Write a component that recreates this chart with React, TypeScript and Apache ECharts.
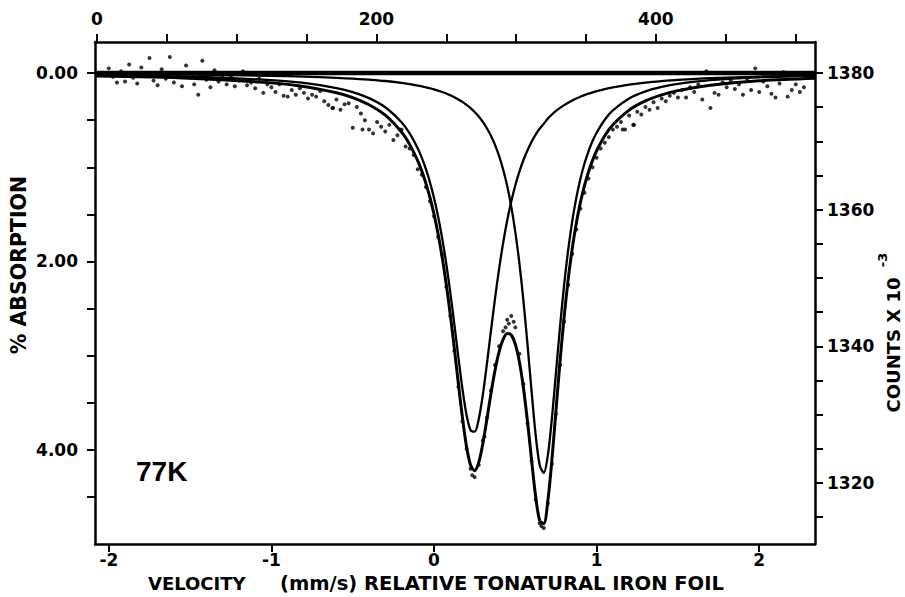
import React, { useEffect, useRef } from "react";
import * as echarts from "echarts";

// ---- axis ticks / labels ----
const velocityTicks = [-2, -1, 0, 1, 2];
const channelTicks = [0, 50, 100, 150, 200, 250, 300, 350, 400, 450, 500];
const channelLabels = [0, 200, 400];
const absorptionTicks = [0, 0.5, 1, 1.5, 2, 2.5, 3, 3.5, 4, 4.5];
const absorptionLabels = [0, 2, 4];
const countTicks = [1315, 1320, 1325, 1330, 1335, 1340, 1345, 1350, 1355, 1360, 1365, 1370, 1375, 1380];
const countLabels = [1320, 1340, 1360, 1380];

// ---- fitted curves (% absorption vs velocity, mm/s) ----
const fitVelocity = [
  -2.085, -1.5, -1.0, -0.8, -0.6, -0.5, -0.4, -0.3, -0.2, -0.15, -0.1, -0.075, -0.05, -0.025, 0,
  0.025, 0.05, 0.075, 0.1, 0.125, 0.15, 0.175, 0.2, 0.225, 0.25, 0.275, 0.3, 0.325, 0.35, 0.375,
  0.4, 0.425, 0.45, 0.475, 0.5, 0.525, 0.55, 0.575, 0.6, 0.625, 0.65, 0.675, 0.7, 0.725, 0.75,
  0.775, 0.8, 0.825, 0.85, 0.875, 0.9, 0.925, 0.95, 0.975, 1.0, 1.05, 1.1, 1.2, 1.3, 1.4, 1.5,
  1.7, 2.0, 2.343,
];
const fitSite1 = [
  0.021, 0.038, 0.075, 0.105, 0.159, 0.202, 0.266, 0.363, 0.522, 0.64, 0.8, 0.9, 1.02, 1.16, 1.326,
  1.522, 1.753, 2.022, 2.329, 2.668, 3.021, 3.357, 3.63, 3.792, 3.807, 3.673, 3.418, 3.091, 2.738, 2.395,
  2.081, 1.804, 1.566, 1.363, 1.191, 1.046, 0.923, 0.819, 0.73, 0.654, 0.589, 0.538, 0.483, 0.44, 0.402,
  0.369, 0.34, 0.314, 0.291, 0.27, 0.251, 0.234, 0.219, 0.205, 0.192, 0.17, 0.152, 0.123, 0.101, 0.085, 0.072,
  0.054, 0.037, 0.026,
];
const fitSite2 = [
  0.011, 0.017, 0.029, 0.037, 0.05, 0.058, 0.07, 0.084, 0.104, 0.117, 0.132, 0.141, 0.151, 0.161, 0.173,
  0.186, 0.201, 0.217, 0.235, 0.256, 0.28, 0.306, 0.337, 0.373, 0.414, 0.462, 0.519, 0.586, 0.666, 0.763,
  0.88, 1.024, 1.2, 1.418, 1.688, 2.02, 2.42, 2.883, 3.38, 3.842, 4.163, 4.245, 4.058, 3.667, 3.181,
  2.692, 2.252, 1.879, 1.573, 1.325, 1.125, 0.963, 0.831, 0.722, 0.633, 0.495, 0.397, 0.27, 0.195, 0.147, 0.114,
  0.075, 0.045, 0.029,
];
const fitTotal = [
  0.032, 0.055, 0.104, 0.142, 0.209, 0.26, 0.336, 0.447, 0.626, 0.757, 0.932, 1.041, 1.171, 1.321, 1.499,
  1.708, 1.954, 2.239, 2.564, 2.924, 3.301, 3.663, 3.967, 4.165, 4.221, 4.135, 3.937, 3.677, 3.404, 3.158,
  2.961, 2.828, 2.766, 2.781, 2.879, 3.066, 3.343, 3.702, 4.11, 4.496, 4.752, 4.783, 4.541, 4.107, 3.583,
  3.061, 2.592, 2.193, 1.864, 1.595, 1.376, 1.197, 1.05, 0.927, 0.825, 0.665, 0.549, 0.393, 0.296, 0.232, 0.186,
  0.129, 0.082, 0.055,
];
const baselineVelocity = [-2.085, 2.343];
const baselineAbsorption = [0, 0];

// ---- measured points ----
const measuredVelocity = [
  -2.025, -2.0, -1.975, -1.95, -1.925, -1.9, -1.875, -1.85, -1.825, -1.8, -1.775, -1.75, -1.725, -1.7,
  -1.675, -1.65, -1.625, -1.6, -1.575, -1.55, -1.525, -1.5, -1.475, -1.45, -1.425, -1.4, -1.375, -1.35,
  -1.325, -1.3, -1.275, -1.25, -1.225, -1.2, -1.175, -1.15, -1.125, -1.1, -1.075, -1.05, -1.025,
  -1.0, -0.975, -0.95, -0.925, -0.9, -0.875, -0.85, -0.825, -0.8, -0.775, -0.75, -0.725, -0.7, -0.675,
  -0.65, -0.625, -0.6, -0.575, -0.55, -0.525, -0.5, -0.475, -0.45, -0.425, -0.4, -0.375, -0.35, -0.325,
  -0.3, -0.275, -0.25, -0.225, -0.2, -0.175, -0.15, -0.125, -0.1,
  -0.075, -0.05, -0.025, 0, 0.025, 0.05, 0.075, 0.1, 0.125, 0.15, 0.175, 0.2, 0.225, 0.25, 0.275, 0.3,
  0.325, 0.35, 0.375, 0.4, 0.425, 0.45, 0.475, 0.5, 0.525, 0.55, 0.575, 0.6, 0.625, 0.65, 0.675, 0.7,
  0.725, 0.75, 0.775, 0.8, 0.825, 0.85, 0.875, 0.9, 0.925, 0.95, 0.975, 1.0, 1.025, 1.05,
  1.075, 1.1, 1.125, 1.15, 1.175, 1.2, 1.225, 1.25, 1.275, 1.3, 1.325, 1.35, 1.375, 1.4, 1.425, 1.45,
  1.475, 1.5, 1.525, 1.55, 1.575, 1.6, 1.625, 1.65, 1.675, 1.7, 1.725, 1.75, 1.775, 1.8, 1.825, 1.85,
  1.875, 1.9, 1.925, 1.95, 1.975, 2.0, 2.025, 2.05, 2.075, 2.1, 2.125, 2.15, 2.175, 2.2, 2.225, 2.25, 2.275,
  0.44, 0.46, 0.49, 0.235, 0.66, 0.31, -0.62, -0.44, 1.16, 1.23,
];
const measuredAbsorption = [
  0.02, -0.05, 0.04, 0.1, -0.02, 0.09, -0.09, 0.05, 0.11, -0.06, 0.03, -0.16, 0.08, 0.13,
  -0.04, 0.06, -0.17, 0.1, 0.02, 0.14, -0.08, 0.05, 0.12, 0.23, -0.13, 0.07, 0.15, -0.03,
  0.09, 0.05, 0.12, 0.04, 0.14, 0.08, -0.02, 0.13, 0.1, 0.16, 0.06, 0.21, 0.12,
  0.15, 0.2, 0.12, 0.24, 0.25, 0.18, 0.23, 0.16, 0.21, 0.27, 0.23, 0.25, 0.19, 0.3,
  0.34, 0.37, 0.28, 0.39, 0.33, 0.32, 0.58, 0.36, 0.43, 0.5, 0.6, 0.64, 0.52, 0.57,
  0.62, 0.55, 0.71, 0.66, 0.6, 0.78, 0.8, 0.87, 1.02,
  1.08, 1.21, 1.36, 1.52, 1.74, 1.93, 2.27, 2.58, 2.95, 3.33, 3.7, 3.99, 4.2, 4.29, 4.16, 3.9,
  3.66, 3.37, 3.1, 2.9, 2.74, 2.62, 2.58, 2.7, 2.98, 3.3, 3.72, 4.12, 4.53, 4.78, 4.83, 4.57,
  4.15, 3.62, 3.1, 2.64, 2.25, 1.92, 1.66, 1.44, 1.27, 1.12, 1.0, 0.9, 0.8, 0.74,
  0.68, 0.6, 0.57, 0.52, 0.6, 0.45, 0.55, 0.41, 0.44, 0.36, 0.39, 0.31, 0.37, 0.27, 0.3, 0.24,
  0.21, 0.26, 0.18, 0.26, 0.15, 0.2, 0.12, 0.28, -0.02, 0.37, 0.21, 0.23, 0.1, 0.15, 0.08, 0.17,
  0.12, 0.23, 0.06, 0.18, -0.05, 0.2, 0.09, 0.14, 0.22, 0.26, 0.11, -0.01, 0.25, 0.18, 0.12, 0.2, 0.15,
  2.7, 2.66, 2.64, 4.27, 4.81, 3.86, 0.37, 0.6, 0.6, 0.55,
];

const W = 905;
const H = 597;
const FONT = "DejaVu Sans";

function zip(xs: number[], ys: number[]) {
  return xs.map((x, i) => [x, ys[i]]);
}

export default function App() {
  const ref = useRef<HTMLDivElement>(null);

  useEffect(() => {
    if (!ref.current) return;
    const chart = echarts.init(ref.current, undefined, { renderer: "svg" });
    const labelFont = { fontFamily: FONT, fontWeight: "bold" as const, fontSize: 17, color: "#000" };
    const axisLine = { onZero: false, lineStyle: { color: "#000", width: 2.5 } };
    const tick = (vals: number[]) => ({
      show: true,
      customValues: vals,
      length: 8,
      inside: false,
      lineStyle: { color: "#000", width: 2 },
    });
    const titleStyle = (text: string, size: number, align: string) => ({
      text,
      fontFamily: FONT,
      fontWeight: "bold",
      fontSize: size,
      fill: "#000",
      align,
      verticalAlign: "middle",
    });

    chart.setOption({
      animation: false,
      backgroundColor: "#fff",
      grid: { left: 95, right: 90, top: 42, bottom: 53, containLabel: false },
      xAxis: [
        {
          type: "value",
          position: "bottom",
          min: -2.085,
          max: 2.343,
          axisLine,
          axisTick: tick(velocityTicks),
          axisLabel: { ...labelFont, customValues: velocityTicks, margin: 7, formatter: (v: number) => String(v) },
          splitLine: { show: false },
        },
        {
          type: "value",
          position: "top",
          min: -1.4,
          max: 513.9,
          axisLine,
          axisTick: tick(channelTicks),
          axisLabel: { ...labelFont, customValues: channelLabels, margin: 15, formatter: (v: number) => String(v) },
          splitLine: { show: false },
        },
      ],
      yAxis: [
        {
          type: "value",
          position: "left",
          inverse: true,
          min: -0.33,
          max: 5.0,
          axisLine,
          axisTick: tick(absorptionTicks),
          axisLabel: {
            ...labelFont,
            customValues: absorptionLabels,
            margin: 17,
            formatter: (v: number) => v.toFixed(2),
          },
          splitLine: { show: false },
        },
        {
          type: "value",
          position: "right",
          min: 1311.05,
          max: 1384.55,
          axisLine,
          axisTick: tick(countTicks),
          axisLabel: { ...labelFont, customValues: countLabels, margin: 12, formatter: (v: number) => String(v) },
          splitLine: { show: false },
        },
      ],
      series: [
        {
          type: "line",
          data: zip(baselineVelocity, baselineAbsorption),
          symbol: "none",
          lineStyle: { color: "#000", width: 4.5 },
          z: 3,
        },
        {
          type: "line",
          data: zip(fitVelocity, fitSite1),
          symbol: "none",
          smooth: 0.3,
          lineStyle: { color: "#000", width: 2.3 },
          z: 3,
        },
        {
          type: "line",
          data: zip(fitVelocity, fitSite2),
          symbol: "none",
          smooth: 0.3,
          lineStyle: { color: "#000", width: 2.3 },
          z: 3,
        },
        {
          type: "line",
          data: zip(fitVelocity, fitTotal),
          symbol: "none",
          smooth: 0.3,
          lineStyle: { color: "#000", width: 3 },
          z: 4,
        },
        {
          type: "scatter",
          data: zip(measuredVelocity, measuredAbsorption),
          symbol: "circle",
          symbolSize: 4,
          itemStyle: { color: "#000" },
          z: 5,
        },
        {
          type: "scatter",
          xAxisIndex: 1,
          yAxisIndex: 1,
          data: [],
        },
      ],
      graphic: [
        { type: "text", x: 19, y: 265, rotation: Math.PI / 2, style: titleStyle("% ABSORPTION", 20.5, "center") },
        { type: "text", x: 893, y: 345, rotation: Math.PI / 2, style: titleStyle("COUNTS X 10", 18, "center") },
        { type: "text", x: 882, y: 260, rotation: Math.PI / 2, style: titleStyle("-3", 13, "center") },
        { type: "text", x: 148, y: 583, style: titleStyle("VELOCITY", 18, "left") },
        { type: "text", x: 280, y: 583, style: titleStyle("(mm/s) RELATIVE TONATURAL IRON FOIL", 19.5, "left") },
        {
          type: "text",
          x: 136,
          y: 471,
          style: {
            text: "77K",
            fontFamily: "Liberation Sans",
            fontWeight: "bold",
            fontSize: 28,
            fill: "#000",
            align: "left",
            verticalAlign: "middle",
          },
        },
      ],
    });

    return () => chart.dispose();
  }, []);

  return (
    <div
      ref={ref}
      style={{ position: "fixed", left: 0, top: 0, width: W, height: H, background: "#fff" }}
    />
  );
}
